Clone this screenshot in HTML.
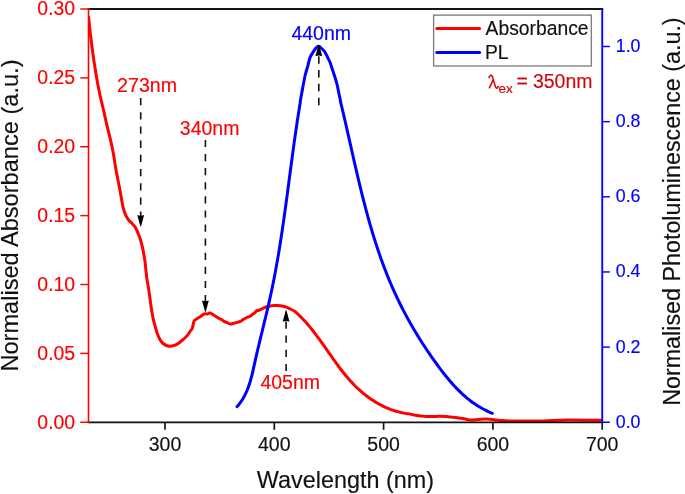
<!DOCTYPE html>
<html><head><meta charset="utf-8"><style>
html,body{margin:0;padding:0;background:#fff;}
svg{display:block;font-family:"Liberation Sans", sans-serif;will-change:transform;}
</style></head><body>
<svg width="685" height="494" viewBox="0 0 685 494">
<rect width="685" height="494" fill="#fff"/>
<defs><clipPath id="c"><rect x="88.5" y="9" width="513.75" height="413.25"/></clipPath></defs>
<g clip-path="url(#c)" fill="none" stroke-linejoin="round" stroke-linecap="round">
<path d="M88.60,17.30 C88.75,18.75 89.19,23.17 89.50,26.00 C89.81,28.83 90.12,31.57 90.45,34.30 C90.78,37.03 91.12,39.78 91.45,42.40 C91.78,45.02 92.06,47.38 92.40,50.00 C92.74,52.62 93.11,55.40 93.50,58.10 C93.89,60.80 94.33,63.50 94.75,66.20 C95.17,68.90 95.60,71.60 96.05,74.30 C96.50,77.00 96.97,79.78 97.45,82.40 C97.93,85.02 98.37,87.38 98.90,90.00 C99.43,92.62 100.03,95.40 100.65,98.10 C101.27,100.80 101.96,103.50 102.60,106.20 C103.24,108.90 103.89,111.60 104.50,114.30 C105.11,117.00 105.66,119.78 106.25,122.40 C106.84,125.02 107.41,127.38 108.05,130.00 C108.69,132.62 109.46,135.40 110.10,138.10 C110.74,140.80 111.33,143.50 111.90,146.20 C112.47,148.90 113.02,151.60 113.50,154.30 C113.98,157.00 114.45,160.20 114.80,162.40 C115.15,164.60 115.30,165.72 115.60,167.50 C115.90,169.28 116.17,170.82 116.60,173.10 C117.03,175.38 117.67,178.50 118.20,181.20 C118.73,183.90 119.28,186.60 119.80,189.30 C120.32,192.00 120.83,194.73 121.30,197.40 C121.77,200.07 122.12,203.00 122.60,205.30 C123.08,207.60 123.60,209.40 124.20,211.20 C124.80,213.00 125.40,214.55 126.20,216.10 C127.00,217.65 127.98,219.23 129.00,220.50 C130.02,221.77 131.30,222.65 132.30,223.70 C133.30,224.75 134.23,225.70 135.00,226.80 C135.77,227.90 136.28,228.93 136.90,230.30 C137.52,231.67 138.18,233.67 138.70,235.00 C139.22,236.33 139.42,236.43 140.00,238.30 C140.58,240.17 141.57,243.53 142.20,246.20 C142.83,248.87 143.32,251.60 143.80,254.30 C144.28,257.00 144.75,259.78 145.10,262.40 C145.45,265.02 145.62,267.38 145.90,270.00 C146.18,272.62 146.42,275.40 146.80,278.10 C147.18,280.80 147.77,283.50 148.20,286.20 C148.63,288.90 149.02,291.60 149.40,294.30 C149.78,297.00 150.15,299.87 150.50,302.40 C150.85,304.93 151.23,307.72 151.50,309.50 C151.77,311.28 151.73,311.15 152.10,313.10 C152.47,315.05 153.08,318.63 153.70,321.20 C154.32,323.77 155.18,326.40 155.80,328.50 C156.42,330.60 156.72,331.98 157.40,333.80 C158.08,335.62 158.95,337.78 159.90,339.40 C160.85,341.02 161.90,342.45 163.10,343.50 C164.30,344.55 165.75,345.27 167.10,345.70 C168.45,346.13 169.85,346.20 171.20,346.10 C172.55,346.00 173.85,345.67 175.20,345.10 C176.55,344.53 177.95,343.65 179.30,342.70 C180.65,341.75 181.95,340.62 183.30,339.40 C184.65,338.18 186.23,336.80 187.40,335.40 C188.57,334.00 189.48,332.20 190.30,331.00 C191.12,329.80 191.75,329.62 192.30,328.20 C192.85,326.78 193.23,323.78 193.60,322.50 C193.97,321.22 193.88,321.17 194.50,320.50 C195.12,319.83 196.30,319.17 197.30,318.50 C198.30,317.83 199.48,317.18 200.50,316.50 C201.52,315.82 202.58,314.85 203.40,314.40 C204.22,313.95 204.73,313.87 205.40,313.80 C206.07,313.73 206.67,314.13 207.40,314.00 C208.13,313.87 208.92,312.93 209.80,313.00 C210.68,313.07 211.68,313.82 212.70,314.40 C213.72,314.98 214.83,315.82 215.90,316.50 C216.97,317.18 218.15,317.97 219.10,318.50 C220.05,319.03 220.78,319.23 221.60,319.70 C222.42,320.17 223.05,320.80 224.00,321.30 C224.95,321.80 226.25,322.25 227.30,322.70 C228.35,323.15 229.20,323.90 230.30,324.00 C231.40,324.10 232.77,323.57 233.90,323.30 C235.03,323.03 236.02,322.73 237.10,322.40 C238.18,322.07 239.32,321.82 240.40,321.30 C241.48,320.78 242.52,319.93 243.60,319.30 C244.68,318.67 245.82,318.02 246.90,317.50 C247.98,316.98 249.10,316.78 250.10,316.20 C251.10,315.62 251.98,314.67 252.90,314.00 C253.82,313.33 254.98,312.77 255.60,312.20 C256.22,311.63 256.03,310.92 256.60,310.60 C257.17,310.28 258.08,310.60 259.00,310.30 C259.92,310.00 260.93,309.35 262.10,308.80 C263.27,308.25 264.67,307.47 266.00,307.00 C267.33,306.53 268.75,306.23 270.10,306.00 C271.45,305.77 272.75,305.68 274.10,305.60 C275.45,305.52 276.85,305.43 278.20,305.50 C279.55,305.57 280.85,305.72 282.20,306.00 C283.55,306.28 284.95,306.70 286.30,307.20 C287.65,307.70 288.91,308.32 290.30,309.00 C291.69,309.68 293.61,310.62 294.65,311.28 C295.69,311.94 295.92,312.39 296.54,312.95 C297.16,313.52 297.78,314.09 298.39,314.66 C299.00,315.24 299.60,315.82 300.20,316.41 C300.80,317.00 301.39,317.60 301.97,318.20 C302.56,318.80 303.13,319.40 303.71,320.02 C304.28,320.63 304.85,321.24 305.41,321.87 C305.97,322.49 306.53,323.11 307.08,323.75 C307.63,324.38 308.18,325.01 308.72,325.65 C309.26,326.29 309.80,326.94 310.33,327.59 C310.87,328.23 311.40,328.89 311.92,329.54 C312.45,330.20 312.97,330.86 313.49,331.52 C314.01,332.18 314.52,332.85 315.04,333.52 C315.55,334.19 316.06,334.86 316.56,335.53 C317.07,336.21 317.57,336.88 318.07,337.56 C318.57,338.24 319.07,338.92 319.57,339.61 C320.06,340.29 320.56,340.98 321.05,341.66 C321.54,342.35 322.04,343.04 322.52,343.73 C323.01,344.42 323.50,345.11 323.99,345.80 C324.48,346.49 324.96,347.18 325.45,347.88 C325.94,348.57 326.42,349.26 326.91,349.96 C327.39,350.65 327.88,351.35 328.36,352.04 C328.85,352.73 329.33,353.43 329.82,354.12 C330.30,354.82 330.79,355.51 331.28,356.20 C331.76,356.89 332.25,357.59 332.74,358.28 C333.23,358.97 333.72,359.66 334.21,360.34 C334.70,361.03 335.20,361.72 335.69,362.40 C336.19,363.09 336.68,363.77 337.18,364.45 C337.68,365.13 338.19,365.81 338.69,366.49 C339.19,367.16 339.70,367.84 340.21,368.51 C340.72,369.18 341.23,369.85 341.75,370.51 C342.27,371.18 342.79,371.84 343.31,372.50 C343.83,373.16 344.36,373.81 344.89,374.46 C345.42,375.12 345.96,375.76 346.50,376.41 C347.04,377.05 347.58,377.69 348.13,378.32 C348.68,378.96 349.23,379.59 349.79,380.22 C350.35,380.84 350.91,381.46 351.48,382.08 C352.05,382.69 352.63,383.30 353.21,383.91 C353.79,384.51 354.38,385.11 354.97,385.71 C355.56,386.30 356.16,386.89 356.77,387.47 C357.37,388.05 357.98,388.63 358.60,389.20 C359.22,389.76 359.84,390.33 360.47,390.88 C361.10,391.44 361.74,391.99 362.38,392.53 C363.02,393.07 363.67,393.61 364.33,394.13 C364.98,394.66 365.64,395.18 366.31,395.69 C366.97,396.20 367.64,396.71 368.32,397.20 C369.00,397.70 369.68,398.19 370.37,398.67 C371.06,399.15 371.76,399.62 372.46,400.08 C373.16,400.54 373.87,400.99 374.58,401.44 C375.29,401.88 376.01,402.32 376.73,402.74 C377.46,403.17 378.19,403.58 378.92,403.99 C379.66,404.39 380.40,404.79 381.15,405.18 C381.89,405.56 382.64,405.94 383.40,406.30 C384.16,406.67 384.92,407.02 385.69,407.37 C386.46,407.71 387.24,408.04 388.02,408.37 C388.80,408.69 389.58,409.00 390.37,409.30 C391.16,409.60 391.96,409.89 392.76,410.16 C393.56,410.44 394.37,410.70 395.18,410.95 C395.99,411.20 396.81,411.44 397.63,411.67 C398.45,411.90 399.28,412.11 400.11,412.31 C400.95,412.52 401.79,412.70 402.63,412.88 C403.47,413.06 404.32,413.22 405.17,413.37 C406.03,413.52 406.89,413.65 407.75,413.77 C408.61,413.89 409.07,413.84 410.36,414.10 C411.65,414.35 413.76,415.00 415.50,415.30 C417.24,415.60 419.05,415.70 420.80,415.90 C422.55,416.10 424.25,416.38 426.00,416.50 C427.75,416.62 429.55,416.62 431.30,416.60 C433.05,416.58 434.75,416.47 436.50,416.40 C438.25,416.33 440.18,416.17 441.80,416.20 C443.42,416.23 444.75,416.45 446.20,416.60 C447.65,416.75 448.90,416.95 450.50,417.10 C452.10,417.25 454.08,417.30 455.80,417.50 C457.52,417.70 459.22,418.05 460.80,418.30 C462.38,418.55 463.68,418.70 465.30,419.00 C466.92,419.30 468.75,419.98 470.50,420.10 C472.25,420.22 474.05,419.85 475.80,419.70 C477.55,419.55 479.25,419.32 481.00,419.20 C482.75,419.08 484.55,418.95 486.30,419.00 C488.05,419.05 489.75,419.32 491.50,419.50 C493.25,419.68 495.05,419.92 496.80,420.10 C498.55,420.28 499.97,420.47 502.00,420.60 C504.03,420.73 506.00,420.85 509.00,420.90 C512.00,420.95 514.30,420.88 520.00,420.90 C525.70,420.92 535.32,421.15 543.20,421.00 C551.08,420.85 557.67,420.12 567.30,420.00 C576.93,419.88 595.38,420.25 601.00,420.30" stroke="#ff0000" stroke-width="3"/>
<path d="M237.05,406.69 C237.33,406.35 238.20,405.36 238.74,404.69 C239.29,404.01 239.81,403.33 240.31,402.63 C240.81,401.94 241.30,401.24 241.76,400.54 C242.22,399.83 242.67,399.12 243.09,398.40 C243.52,397.68 243.93,396.96 244.32,396.22 C244.71,395.49 245.09,394.75 245.45,394.01 C245.81,393.27 246.16,392.52 246.49,391.76 C246.83,391.01 247.14,390.24 247.45,389.48 C247.76,388.71 248.05,387.94 248.33,387.17 C248.62,386.39 248.89,385.61 249.15,384.83 C249.41,384.05 249.66,383.26 249.90,382.47 C250.14,381.68 250.38,380.89 250.60,380.09 C250.83,379.29 251.05,378.49 251.26,377.69 C251.47,376.88 251.68,376.08 251.88,375.27 C252.08,374.46 252.28,373.65 252.47,372.84 C252.66,372.03 252.85,371.21 253.03,370.40 C253.22,369.58 253.40,368.76 253.58,367.95 C253.77,367.13 253.95,366.31 254.13,365.49 C254.31,364.67 254.49,363.85 254.67,363.03 C254.85,362.21 255.03,361.39 255.22,360.57 C255.40,359.75 255.59,358.93 255.78,358.11 C255.96,357.29 256.15,356.47 256.34,355.65 C256.53,354.83 256.72,354.01 256.91,353.19 C257.10,352.37 257.29,351.55 257.49,350.73 C257.68,349.91 257.87,349.09 258.07,348.27 C258.26,347.45 258.46,346.63 258.65,345.81 C258.85,344.99 259.05,344.17 259.24,343.35 C259.44,342.53 259.64,341.71 259.84,340.89 C260.03,340.06 260.23,339.24 260.43,338.42 C260.63,337.60 260.83,336.78 261.03,335.96 C261.23,335.14 261.43,334.32 261.63,333.50 C261.83,332.68 262.03,331.86 262.23,331.03 C262.43,330.21 262.63,329.39 262.83,328.57 C263.03,327.75 263.23,326.93 263.43,326.11 C263.63,325.29 263.83,324.46 264.03,323.64 C264.23,322.82 264.43,322.00 264.62,321.18 C264.82,320.36 265.02,319.53 265.22,318.71 C265.42,317.89 265.61,317.07 265.81,316.25 C266.01,315.42 266.20,314.60 266.40,313.78 C266.59,312.96 266.79,312.14 266.98,311.31 C267.18,310.49 267.37,309.67 267.56,308.84 C267.75,308.02 267.95,307.20 268.14,306.38 C268.33,305.55 268.51,304.73 268.70,303.91 C268.89,303.09 269.08,302.26 269.26,301.44 C269.45,300.62 269.63,299.79 269.82,298.97 C270.00,298.15 270.18,297.32 270.36,296.50 C270.54,295.67 270.72,294.85 270.90,294.03 C271.08,293.20 271.25,292.38 271.43,291.55 C271.60,290.73 271.77,289.91 271.95,289.08 C272.12,288.26 272.29,287.43 272.46,286.61 C272.63,285.78 272.79,284.96 272.96,284.14 C273.13,283.31 273.29,282.49 273.46,281.66 C273.62,280.84 273.78,280.01 273.94,279.19 C274.10,278.36 274.26,277.53 274.42,276.71 C274.58,275.88 274.74,275.06 274.89,274.23 C275.05,273.41 275.21,272.58 275.36,271.76 C275.51,270.93 275.67,270.10 275.82,269.28 C275.97,268.45 276.12,267.63 276.27,266.80 C276.42,265.97 276.57,265.15 276.71,264.32 C276.86,263.50 277.01,262.67 277.15,261.84 C277.30,261.02 277.44,260.19 277.58,259.36 C277.73,258.54 277.87,257.71 278.01,256.88 C278.15,256.06 278.29,255.23 278.43,254.40 C278.57,253.58 278.70,252.75 278.84,251.92 C278.98,251.09 279.12,250.27 279.25,249.44 C279.39,248.61 279.52,247.78 279.65,246.96 C279.79,246.13 279.92,245.30 280.05,244.47 C280.18,243.65 280.31,242.82 280.44,241.99 C280.57,241.16 280.70,240.34 280.83,239.51 C280.96,238.68 281.09,237.85 281.22,237.02 C281.34,236.19 281.47,235.37 281.59,234.54 C281.72,233.71 281.85,232.88 281.97,232.05 C282.09,231.23 282.22,230.40 282.34,229.57 C282.46,228.74 282.59,227.91 282.71,227.08 C282.83,226.25 282.95,225.42 283.07,224.60 C283.19,223.77 283.31,222.94 283.43,222.11 C283.55,221.28 283.67,220.45 283.79,219.62 C283.90,218.79 284.02,217.96 284.14,217.14 C284.26,216.31 284.37,215.48 284.49,214.65 C284.61,213.82 284.72,212.99 284.84,212.16 C284.95,211.33 285.07,210.50 285.18,209.67 C285.30,208.84 285.41,208.01 285.53,207.18 C285.64,206.35 285.75,205.52 285.87,204.69 C285.98,203.86 286.09,203.03 286.20,202.20 C286.32,201.37 286.43,200.54 286.54,199.71 C286.65,198.88 286.76,198.05 286.88,197.22 C286.99,196.39 287.10,195.56 287.21,194.73 C287.32,193.90 287.43,193.07 287.54,192.24 C287.65,191.41 287.76,190.58 287.87,189.75 C287.98,188.92 288.09,188.09 288.20,187.26 C288.31,186.43 288.42,185.60 288.53,184.77 C288.64,183.94 288.75,183.11 288.86,182.28 C288.97,181.45 289.08,180.62 289.19,179.79 C289.30,178.96 289.41,178.13 289.52,177.30 C289.63,176.47 289.74,175.63 289.85,174.80 C289.96,173.97 290.07,173.14 290.18,172.31 C290.29,171.48 290.40,170.65 290.51,169.82 C290.62,168.99 290.73,168.16 290.84,167.33 C290.95,166.50 291.06,165.66 291.17,164.83 C291.28,164.00 291.39,163.17 291.50,162.34 C291.61,161.51 291.72,160.68 291.83,159.85 C291.95,159.02 292.06,158.19 292.17,157.35 C292.28,156.52 292.39,155.69 292.50,154.86 C292.62,154.03 292.73,153.20 292.84,152.37 C292.95,151.54 293.07,150.71 293.18,149.87 C293.30,149.04 293.41,148.21 293.52,147.38 C293.64,146.55 293.75,145.72 293.87,144.89 C293.98,144.06 294.10,143.22 294.21,142.39 C294.33,141.56 294.45,140.73 294.56,139.90 C294.68,139.07 294.80,138.24 294.91,137.41 C295.03,136.57 295.15,135.74 295.27,134.91 C295.39,134.08 295.51,133.25 295.63,132.42 C295.75,131.59 295.87,130.75 295.99,129.92 C296.11,129.09 296.23,128.26 296.36,127.43 C296.48,126.60 296.60,125.77 296.72,124.94 C296.85,124.10 296.97,123.27 297.10,122.44 C297.22,121.61 297.35,120.78 297.47,119.95 C297.60,119.12 297.73,118.28 297.86,117.45 C297.98,116.62 298.11,115.79 298.24,114.96 C298.37,114.13 298.50,113.30 298.63,112.47 C298.76,111.63 298.90,110.80 299.03,109.97 C299.16,109.14 299.29,108.31 299.43,107.48 C299.56,106.65 299.70,105.82 299.84,104.98 C299.97,104.15 300.14,103.32 300.25,102.49 C300.36,101.66 300.07,102.52 300.50,100.00 C300.93,97.48 302.02,91.53 302.80,87.40 C303.58,83.27 304.40,78.65 305.20,75.20 C306.00,71.75 306.80,69.63 307.60,66.70 C308.40,63.77 309.08,60.03 310.00,57.60 C310.92,55.17 312.08,53.72 313.10,52.10 C314.12,50.48 315.17,48.87 316.10,47.90 C317.03,46.93 317.78,46.20 318.70,46.30 C319.62,46.40 320.62,47.63 321.60,48.50 C322.58,49.37 323.58,49.98 324.60,51.50 C325.62,53.02 326.78,55.77 327.70,57.60 C328.62,59.43 329.30,60.47 330.10,62.50 C330.90,64.53 331.70,67.38 332.50,69.80 C333.30,72.22 334.12,74.47 334.90,77.00 C335.68,79.53 336.55,82.33 337.20,85.00 C337.85,87.67 338.30,90.58 338.80,93.00 C339.30,95.42 339.90,98.00 340.20,99.50 C340.50,101.00 340.43,101.19 340.60,102.01 C340.76,102.84 340.99,103.63 341.18,104.45 C341.38,105.26 341.57,106.07 341.77,106.88 C341.96,107.69 342.15,108.51 342.35,109.32 C342.54,110.13 342.73,110.95 342.92,111.76 C343.11,112.57 343.30,113.39 343.49,114.20 C343.68,115.02 343.87,115.83 344.06,116.65 C344.25,117.46 344.44,118.28 344.63,119.09 C344.82,119.91 345.01,120.72 345.19,121.54 C345.38,122.36 345.57,123.17 345.75,123.99 C345.94,124.81 346.13,125.62 346.31,126.44 C346.50,127.26 346.69,128.07 346.87,128.89 C347.06,129.71 347.24,130.53 347.43,131.34 C347.62,132.16 347.80,132.98 347.99,133.80 C348.17,134.61 348.36,135.43 348.54,136.25 C348.73,137.07 348.91,137.89 349.09,138.71 C349.28,139.52 349.46,140.34 349.65,141.16 C349.83,141.98 350.02,142.80 350.20,143.62 C350.39,144.44 350.57,145.26 350.76,146.08 C350.94,146.89 351.12,147.71 351.31,148.53 C351.49,149.35 351.68,150.17 351.86,150.99 C352.05,151.81 352.23,152.63 352.42,153.45 C352.60,154.27 352.79,155.09 352.98,155.91 C353.16,156.73 353.35,157.55 353.53,158.36 C353.72,159.18 353.91,160.00 354.09,160.82 C354.28,161.64 354.47,162.46 354.66,163.28 C354.84,164.10 355.03,164.92 355.22,165.74 C355.41,166.56 355.60,167.38 355.78,168.19 C355.97,169.01 356.16,169.83 356.35,170.65 C356.54,171.47 356.73,172.29 356.92,173.11 C357.12,173.92 357.31,174.74 357.50,175.56 C357.69,176.38 357.88,177.20 358.08,178.01 C358.27,178.83 358.46,179.65 358.66,180.47 C358.85,181.28 359.05,182.10 359.24,182.92 C359.44,183.74 359.64,184.55 359.83,185.37 C360.03,186.19 360.23,187.00 360.43,187.82 C360.63,188.63 360.83,189.45 361.03,190.27 C361.23,191.08 361.43,191.90 361.63,192.71 C361.83,193.53 362.03,194.34 362.24,195.16 C362.44,195.97 362.65,196.79 362.85,197.60 C363.06,198.41 363.26,199.23 363.47,200.04 C363.68,200.85 363.89,201.67 364.10,202.48 C364.31,203.29 364.52,204.11 364.73,204.92 C364.94,205.73 365.15,206.54 365.37,207.35 C365.58,208.16 365.80,208.97 366.01,209.79 C366.23,210.60 366.44,211.41 366.66,212.22 C366.88,213.03 367.10,213.83 367.32,214.64 C367.54,215.45 367.77,216.26 367.99,217.07 C368.21,217.88 368.44,218.68 368.66,219.49 C368.89,220.30 369.12,221.11 369.34,221.91 C369.57,222.72 369.80,223.52 370.03,224.33 C370.27,225.13 370.50,225.94 370.73,226.74 C370.97,227.55 371.20,228.35 371.44,229.15 C371.68,229.96 371.92,230.76 372.16,231.56 C372.40,232.36 372.64,233.16 372.88,233.96 C373.12,234.77 373.37,235.57 373.62,236.37 C373.86,237.17 374.11,237.96 374.36,238.76 C374.61,239.56 374.86,240.36 375.11,241.16 C375.37,241.95 375.62,242.75 375.88,243.55 C376.13,244.34 376.39,245.14 376.65,245.93 C376.91,246.73 377.17,247.52 377.44,248.31 C377.70,249.11 377.97,249.90 378.23,250.69 C378.50,251.48 378.77,252.28 379.04,253.07 C379.31,253.86 379.59,254.65 379.86,255.44 C380.14,256.22 380.41,257.01 380.69,257.80 C380.97,258.59 381.25,259.38 381.53,260.16 C381.82,260.95 382.10,261.73 382.39,262.52 C382.68,263.30 382.97,264.09 383.26,264.87 C383.55,265.65 383.84,266.43 384.14,267.22 C384.43,268.00 384.73,268.78 385.03,269.56 C385.33,270.34 385.63,271.12 385.94,271.89 C386.24,272.67 386.55,273.45 386.86,274.23 C387.16,275.00 387.48,275.78 387.79,276.55 C388.10,277.33 388.42,278.10 388.74,278.87 C389.05,279.65 389.37,280.42 389.70,281.19 C390.02,281.96 390.35,282.73 390.67,283.50 C391.00,284.27 391.33,285.04 391.66,285.80 C392.00,286.57 392.33,287.34 392.67,288.10 C393.01,288.87 393.35,289.63 393.69,290.39 C394.03,291.16 394.38,291.92 394.73,292.68 C395.08,293.44 395.43,294.20 395.78,294.96 C396.13,295.72 396.49,296.48 396.85,297.24 C397.20,297.99 397.57,298.75 397.93,299.50 C398.29,300.26 398.66,301.01 399.03,301.77 C399.39,302.52 399.77,303.27 400.14,304.02 C400.51,304.77 400.89,305.52 401.27,306.27 C401.64,307.02 402.02,307.77 402.41,308.51 C402.79,309.26 403.18,310.00 403.56,310.75 C403.95,311.49 404.34,312.24 404.73,312.98 C405.13,313.72 405.52,314.46 405.92,315.20 C406.32,315.94 406.72,316.68 407.12,317.42 C407.52,318.15 407.92,318.89 408.33,319.62 C408.74,320.36 409.15,321.09 409.56,321.83 C409.97,322.56 410.38,323.29 410.80,324.02 C411.22,324.75 411.63,325.48 412.05,326.21 C412.47,326.94 412.90,327.66 413.32,328.39 C413.75,329.11 414.17,329.84 414.60,330.56 C415.03,331.28 415.46,332.00 415.90,332.73 C416.33,333.45 416.77,334.16 417.20,334.88 C417.64,335.60 418.08,336.32 418.53,337.03 C418.97,337.75 419.41,338.46 419.86,339.18 C420.31,339.89 420.75,340.60 421.21,341.31 C421.66,342.02 422.11,342.73 422.57,343.44 C423.02,344.14 423.48,344.85 423.94,345.55 C424.40,346.26 424.86,346.96 425.32,347.67 C425.79,348.37 426.25,349.07 426.72,349.77 C427.19,350.47 427.66,351.17 428.13,351.86 C428.60,352.56 429.08,353.25 429.55,353.95 C430.03,354.64 430.51,355.33 430.99,356.03 C431.47,356.72 431.95,357.41 432.43,358.10 C432.92,358.78 433.41,359.47 433.89,360.16 C434.38,360.84 434.87,361.53 435.37,362.21 C435.86,362.89 436.35,363.57 436.85,364.25 C437.35,364.93 437.84,365.61 438.35,366.29 C438.85,366.96 439.35,367.64 439.85,368.31 C440.36,368.98 440.87,369.66 441.38,370.33 C441.89,370.99 442.40,371.66 442.91,372.33 C443.43,372.99 443.94,373.65 444.47,374.31 C444.99,374.97 445.51,375.63 446.04,376.28 C446.56,376.93 447.09,377.58 447.63,378.23 C448.16,378.87 448.70,379.52 449.24,380.15 C449.78,380.79 450.32,381.43 450.87,382.06 C451.41,382.69 451.96,383.32 452.52,383.94 C453.08,384.56 453.63,385.18 454.20,385.79 C454.76,386.40 455.33,387.01 455.90,387.61 C456.47,388.22 457.05,388.81 457.63,389.41 C458.21,390.00 458.80,390.59 459.39,391.17 C459.98,391.75 460.57,392.32 461.17,392.89 C461.77,393.46 462.38,394.02 462.99,394.58 C463.60,395.14 464.22,395.69 464.84,396.23 C465.46,396.78 466.09,397.31 466.72,397.84 C467.35,398.37 467.99,398.89 468.64,399.41 C469.28,399.92 469.93,400.43 470.59,400.93 C471.25,401.43 471.91,401.93 472.58,402.41 C473.25,402.89 473.92,403.37 474.60,403.84 C475.29,404.31 475.97,404.77 476.67,405.22 C477.36,405.67 478.07,406.11 478.78,406.55 C479.48,406.98 480.20,407.40 480.92,407.82 C481.65,408.23 482.38,408.64 483.12,409.04 C483.85,409.43 484.60,409.82 485.35,410.20 C486.10,410.57 486.86,410.94 487.63,411.30 C488.40,411.65 489.18,412.00 489.96,412.33 C490.75,412.67 491.94,413.15 492.34,413.31" stroke="#0000ff" stroke-width="3"/>
</g>
<line x1="87.7" y1="9" x2="603.15" y2="9" stroke="#161616" stroke-width="1.95"/>
<line x1="87.7" y1="422.25" x2="603.15" y2="422.25" stroke="#111" stroke-width="1.75"/>
<line x1="165.0" y1="422.25" x2="165.0" y2="429.8" stroke="#151515" stroke-width="1.7"/>
<line x1="274.3" y1="422.25" x2="274.3" y2="429.8" stroke="#151515" stroke-width="1.7"/>
<line x1="383.6" y1="422.25" x2="383.6" y2="429.8" stroke="#151515" stroke-width="1.7"/>
<line x1="492.9" y1="422.25" x2="492.9" y2="429.8" stroke="#151515" stroke-width="1.7"/>
<line x1="602.2" y1="422.25" x2="602.2" y2="429.8" stroke="#151515" stroke-width="1.7"/>
<line x1="88.5" y1="8.1" x2="88.5" y2="423.05" stroke="#ff0000" stroke-width="1.6"/>
<line x1="80.3" y1="9.00" x2="88.5" y2="9.00" stroke="#ff0000" stroke-width="1.45"/>
<line x1="80.3" y1="77.88" x2="88.5" y2="77.88" stroke="#ff0000" stroke-width="1.45"/>
<line x1="80.3" y1="146.75" x2="88.5" y2="146.75" stroke="#ff0000" stroke-width="1.45"/>
<line x1="80.3" y1="215.62" x2="88.5" y2="215.62" stroke="#ff0000" stroke-width="1.45"/>
<line x1="80.3" y1="284.50" x2="88.5" y2="284.50" stroke="#ff0000" stroke-width="1.45"/>
<line x1="80.3" y1="353.38" x2="88.5" y2="353.38" stroke="#ff0000" stroke-width="1.45"/>
<line x1="80.3" y1="422.25" x2="88.5" y2="422.25" stroke="#ff0000" stroke-width="1.45"/>
<line x1="602.25" y1="8.1" x2="602.25" y2="423.05" stroke="#0000ff" stroke-width="1.85"/>
<line x1="602.25" y1="422.25" x2="609.9" y2="422.25" stroke="#0000ff" stroke-width="1.45"/>
<line x1="602.25" y1="347.10" x2="609.9" y2="347.10" stroke="#0000ff" stroke-width="1.45"/>
<line x1="602.25" y1="271.95" x2="609.9" y2="271.95" stroke="#0000ff" stroke-width="1.45"/>
<line x1="602.25" y1="196.80" x2="609.9" y2="196.80" stroke="#0000ff" stroke-width="1.45"/>
<line x1="602.25" y1="121.65" x2="609.9" y2="121.65" stroke="#0000ff" stroke-width="1.45"/>
<line x1="602.25" y1="46.50" x2="609.9" y2="46.50" stroke="#0000ff" stroke-width="1.45"/>
<text x="75.1" y="15.45" font-size="19.4" fill="#ff0000" stroke="#ff0000" stroke-width="0.15" text-anchor="end">0.30</text>
<text x="75.1" y="84.33" font-size="19.4" fill="#ff0000" stroke="#ff0000" stroke-width="0.15" text-anchor="end">0.25</text>
<text x="75.1" y="153.20" font-size="19.4" fill="#ff0000" stroke="#ff0000" stroke-width="0.15" text-anchor="end">0.20</text>
<text x="75.1" y="222.07" font-size="19.4" fill="#ff0000" stroke="#ff0000" stroke-width="0.15" text-anchor="end">0.15</text>
<text x="75.1" y="290.95" font-size="19.4" fill="#ff0000" stroke="#ff0000" stroke-width="0.15" text-anchor="end">0.10</text>
<text x="75.1" y="359.82" font-size="19.4" fill="#ff0000" stroke="#ff0000" stroke-width="0.15" text-anchor="end">0.05</text>
<text x="75.1" y="428.70" font-size="19.4" fill="#ff0000" stroke="#ff0000" stroke-width="0.15" text-anchor="end">0.00</text>
<text x="615.75" y="427.65" font-size="17.8" fill="#0000ff" stroke="#0000ff" stroke-width="0.15">0.0</text>
<text x="615.75" y="352.50" font-size="17.8" fill="#0000ff" stroke="#0000ff" stroke-width="0.15">0.2</text>
<text x="615.75" y="277.35" font-size="17.8" fill="#0000ff" stroke="#0000ff" stroke-width="0.15">0.4</text>
<text x="615.75" y="202.20" font-size="17.8" fill="#0000ff" stroke="#0000ff" stroke-width="0.15">0.6</text>
<text x="615.75" y="127.05" font-size="17.8" fill="#0000ff" stroke="#0000ff" stroke-width="0.15">0.8</text>
<text x="615.75" y="51.90" font-size="17.8" fill="#0000ff" stroke="#0000ff" stroke-width="0.15">1.0</text>
<text x="165.00" y="450.6" font-size="19.5" fill="#111" stroke="#111" stroke-width="0.15" text-anchor="middle">300</text>
<text x="274.30" y="450.6" font-size="19.5" fill="#111" stroke="#111" stroke-width="0.15" text-anchor="middle">400</text>
<text x="383.60" y="450.6" font-size="19.5" fill="#111" stroke="#111" stroke-width="0.15" text-anchor="middle">500</text>
<text x="492.90" y="450.6" font-size="19.5" fill="#111" stroke="#111" stroke-width="0.15" text-anchor="middle">600</text>
<text x="602.20" y="450.6" font-size="19.5" fill="#111" stroke="#111" stroke-width="0.15" text-anchor="middle">700</text>
<text x="345.4" y="488" font-size="23.4" fill="#111" stroke="#111" stroke-width="0.15" text-anchor="middle">Wavelength (nm)</text>
<text transform="translate(17.8,215.55) rotate(-90)" x="0" y="0" font-size="23.6" fill="#111" stroke="#111" stroke-width="0.15" text-anchor="middle">Normalised Absorbance (a.u.)</text>
<text transform="translate(679.5,211.6) rotate(-90)" x="0" y="0" font-size="23.3" fill="#111" stroke="#111" stroke-width="0.15" text-anchor="middle">Normalised Photoluminescence (a.u.)</text>
<text x="117.1" y="92.4" font-size="19.6" fill="#ff0000" stroke="#ff0000" stroke-width="0.15">273nm</text>
<text x="179.8" y="135" font-size="19.5" fill="#ff0000" stroke="#ff0000" stroke-width="0.15">340nm</text>
<text x="260.4" y="388.6" font-size="19.5" fill="#ff0000" stroke="#ff0000" stroke-width="0.15">405nm</text>
<text x="291.4" y="39.5" font-size="19.5" fill="#0000ff" stroke="#0000ff" stroke-width="0.15">440nm</text>
<line x1="140.7" y1="98" x2="140.7" y2="216.5" stroke="#111" stroke-width="1.6" stroke-dasharray="7.3 6.8999999999999995"/><path d="M137.29999999999998,215.0 Q140.7,216.4 144.1,215.0 L141.04999999999998,226.4 L140.35,226.4 Z" fill="#000"/>
<line x1="205.4" y1="139.9" x2="205.4" y2="301.9" stroke="#111" stroke-width="1.6" stroke-dasharray="7.2 6.8999999999999995"/><path d="M202.0,300.4 Q205.4,301.79999999999995 208.8,300.4 L205.75,311.8 L205.05,311.8 Z" fill="#000"/>
<line x1="286.1" y1="371.1" x2="286.1" y2="320.2" stroke="#111" stroke-width="1.6" stroke-dasharray="7.2 6.95"/><path d="M282.70000000000005,321.7 Q286.1,320.3 289.5,321.7 L286.45000000000005,310.29999999999995 L285.75,310.29999999999995 Z" fill="#000"/>
<line x1="318.8" y1="105.2" x2="318.8" y2="54.7" stroke="#111" stroke-width="1.6" stroke-dasharray="7.5 6.35"/><path d="M315.40000000000003,56.2 Q318.8,54.800000000000004 322.2,56.2 L319.15000000000003,44.8 L318.45,44.8 Z" fill="#000"/>
<rect x="433.6" y="15.1" width="157.7" height="50.9" fill="#fff" stroke="#7a7a7a" stroke-width="1.3"/>
<line x1="436.8" y1="28.5" x2="479.6" y2="28.5" stroke="#ff0000" stroke-width="3" stroke-linecap="round"/>
<line x1="436.8" y1="52.4" x2="479.6" y2="52.4" stroke="#0000ff" stroke-width="3" stroke-linecap="round"/>
<text x="485.6" y="35.1" font-size="19.3" fill="#111" stroke="#111" stroke-width="0.15">Absorbance</text>
<text x="485.0" y="58.9" font-size="19.3" fill="#111" stroke="#111" stroke-width="0.15">PL</text>
<path d="M489.0,77.6 C489.6,75.6 491.2,74.6 492.2,76.2 C493.2,78.5 494.2,83 495.2,86 C495.9,88 496.9,88.9 497.6,87.6 L498.2,86.2 M493.0,80.2 L489.4,87.8" fill="none" stroke="#d00808" stroke-width="1.55" stroke-linecap="round" stroke-linejoin="round"/>
<text x="498.6" y="93.3" font-size="13.5" fill="#d00808" stroke="#d00808" stroke-width="0.15">ex</text>
<text x="516.4" y="88.4" font-size="19.5" fill="#d00808" stroke="#d00808" stroke-width="0.15">=</text>
<text x="532.9" y="88.4" font-size="19.5" fill="#d00808" stroke="#d00808" stroke-width="0.15">350nm</text>
</svg>
</body></html>
